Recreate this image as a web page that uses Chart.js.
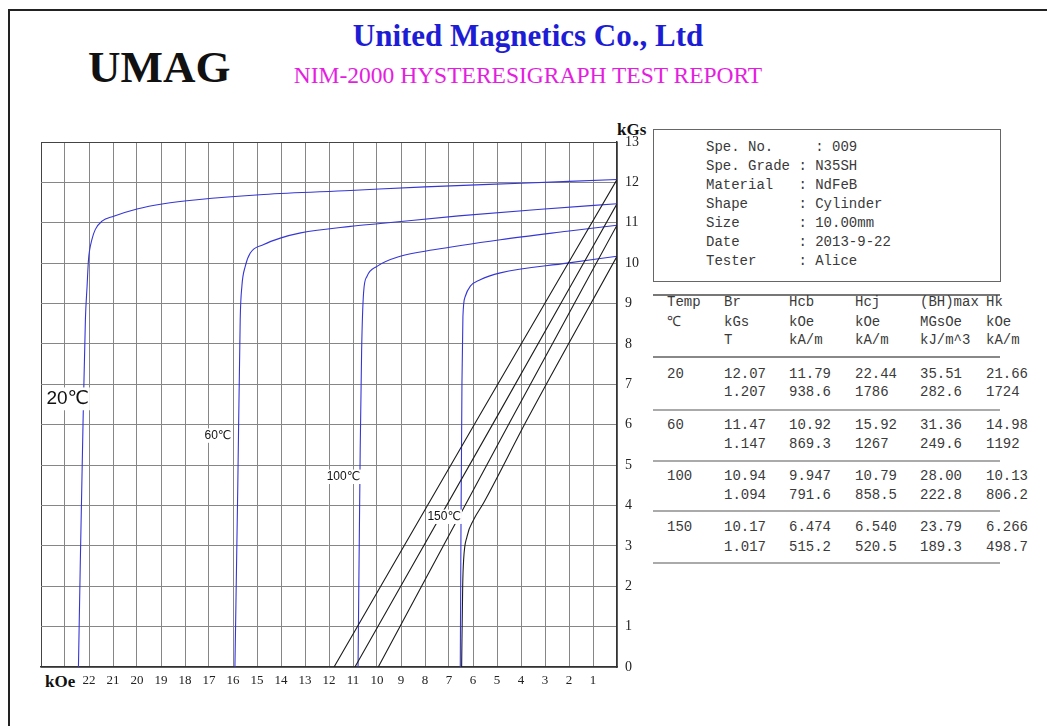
<!DOCTYPE html>
<html>
<head>
<meta charset="utf-8">
<script src="https://cdn.jsdelivr.net/npm/chart.js@4.4.1/dist/chart.umd.min.js"></script>
<style>
  body { margin: 0; width: 1047px; height: 726px; overflow: hidden; background: #fff; position: relative; }
  .abs { position: absolute; white-space: pre; line-height: 1; }
  .serif { font-family: "Liberation Serif", "Times New Roman", serif; }
  .mono { font-family: "Liberation Mono", "Courier New", monospace; font-size: 14px; color: #3a3a3a; }
  #frame { position: absolute; left: 8px; top: 9px; width: 1100px; height: 800px; border-left: 2px solid #222; border-top: 2px solid #222; }
  #info { position: absolute; left: 653px; top: 129px; width: 346px; height: 151px; border: 1px solid #666; }
  .rule { position: absolute; left: 653px; width: 347px; height: 2px; background: #aaa; }
  #chartWrap { position: absolute; left: 0; top: 100px; }
</style>
</head>
<body>
<div id="frame"></div>

<div class="abs serif" style="left:88px; top:45px; font-size:45px; font-weight:bold; color:#111;">UMAG</div>
<div class="abs serif" style="left:28px; width:1000px; text-align:center; top:20px; font-size:31px; font-weight:bold; color:#1d1dd6;">United Magnetics Co., Ltd</div>
<div class="abs serif" style="left:28px; width:1000px; text-align:center; top:64px; font-size:23.5px; color:#e41ee0;">NIM-2000 HYSTERESIGRAPH TEST REPORT</div>

<div class="abs serif" style="left:617px; top:121px; font-size:17px; font-weight:bold; color:#111;">kGs</div>
<div class="abs serif" style="left:45px; top:673px; font-size:17px; font-weight:bold; color:#111;">kOe</div>

<div id="info"></div>
<div class="abs mono" style="left:706px; top:138px; line-height:19px;">Spe. No.     : 009
Spe. Grade : N35SH
Material   : NdFeB
Shape      : Cylinder
Size       : 10.00mm
Date       : 2013-9-22
Tester     : Alice</div>

<div class="rule" style="top:294px; background:#777;"></div>
<div class="rule" style="top:356px; background:#888;"></div>
<div class="rule" style="top:409px;"></div>
<div class="rule" style="top:460px;"></div>
<div class="rule" style="top:510px;"></div>
<div class="rule" style="top:562px;"></div>

<div id="table"></div>

<div id="chartWrap"><canvas id="bhChart" width="700" height="626"></canvas></div>

<script>
// demagnetization curves (H in kOe, B in kGs)
const h20 = [0, 4, 8, 11.11, 14.72, 17.5, 18.89, 20.0, 20.97, 21.46, 21.74, 21.88, 22.02, 22.08, 22.15, 22.25, 22.36, 22.44];
const j20 = [12.07, 11.98, 11.89, 11.8, 11.7, 11.57, 11.47, 11.34, 11.16, 11.04, 10.83, 10.58, 10.09, 9.43, 8.6, 6.0, 2.66, 0];
const h60 = [0, 3.3, 6.6, 9.86, 11.11, 13.18, 14.03, 14.72, 15.28, 15.49, 15.63, 15.7, 15.8, 15.92];
const j60 = [11.47, 11.33, 11.17, 10.98, 10.91, 10.75, 10.62, 10.46, 10.25, 9.92, 9.43, 8.6, 4.5, 0];
const h100 = [0, 2.08, 4.86, 7.64, 9.03, 10.0, 10.42, 10.56, 10.64, 10.7, 10.79];
const j100 = [10.94, 10.79, 10.58, 10.33, 10.17, 9.92, 9.67, 9.26, 7.86, 5.38, 0];
const h150 = [0, 2.08, 4.86, 5.7, 6.11, 6.32, 6.42, 6.46, 6.5, 6.53];
const j150 = [10.17, 10.0, 9.76, 9.59, 9.43, 9.18, 8.68, 7.03, 3.5, 0];

// normal B curves
const nh20 = [0, 5.83, 11.79];
const nb20 = [12.07, 6.12, 0];
const nh60 = [0, 5.0, 10.92];
const nb60 = [11.47, 6.2, 0];
const nh100 = [0, 4.45, 9.947];
const nb100 = [10.94, 6.08, 0];
const nh150 = [0, 3.75, 5.56, 5.97, 6.25, 6.39, 6.43, 6.474];
const nb150 = [10.17, 6.12, 4.06, 3.65, 3.23, 2.66, 2.0, 0];

const xTickLabels = [22, 21, 20, 19, 18, 17, 16, 15, 14, 13, 12, 11, 10, 9, 8, 7, 6, 5, 4, 3, 2, 1];

const tempLabels = ['20℃', '60℃', '100℃', '150℃'];
const labelH = [22.89, 16.63, 11.4, 7.2];
const labelB = [6.64, 5.73, 4.71, 3.72];

// table
const tableHead = [
  ['Temp', 'Br', 'Hcb', 'Hcj', '(BH)max', 'Hk'],
  ['℃', 'kGs', 'kOe', 'kOe', 'MGsOe', 'kOe'],
  ['', 'T', 'kA/m', 'kA/m', 'kJ/m^3', 'kA/m']
];
const tableRows = [
  ['20', '12.07', '11.79', '22.44', '35.51', '21.66'],
  ['', '1.207', '938.6', '1786', '282.6', '1724'],
  ['60', '11.47', '10.92', '15.92', '31.36', '14.98'],
  ['', '1.147', '869.3', '1267', '249.6', '1192'],
  ['100', '10.94', '9.947', '10.79', '28.00', '10.13'],
  ['', '1.094', '791.6', '858.5', '222.8', '806.2'],
  ['150', '10.17', '6.474', '6.540', '23.79', '6.266'],
  ['', '1.017', '515.2', '520.5', '189.3', '498.7']
];

const colX = [667, 724, 789, 855, 920, 986];
const rowTop = [295, 315, 333, 366.5, 385, 417.5, 436.5, 468.5, 487.5, 520, 539.5];

const tbl = document.getElementById('table');
const allRows = tableHead.concat(tableRows);
for (let r = 0; r < allRows.length; r++) {
  for (let c = 0; c < allRows[r].length; c++) {
    if (!allRows[r][c]) continue;
    const d = document.createElement('div');
    d.className = 'abs mono';
    d.style.left = colX[c] + 'px';
    d.style.top = rowTop[r] + 'px';
    d.textContent = allRows[r][c];
    tbl.appendChild(d);
  }
}

function pts(hs, bs) {
  return hs.map((h, i) => ({ x: h, y: bs[i] }));
}

const blue = '#3636d6';
const black = '#1c1c1c';

function curve(hs, bs, color) {
  return {
    data: pts(hs, bs),
    showLine: true,
    borderColor: color,
    borderWidth: 1.1,
    pointRadius: 0,
    cubicInterpolationMode: 'monotone'
  };
}

const curveLabels = {
  id: 'curveLabels',
  afterDatasetsDraw(chart) {
    const ctx = chart.ctx;
    const x = chart.scales.x;
    const y = chart.scales.y;
    ctx.save();
    for (let i = 0; i < tempLabels.length; i++) {
      const size = i === 0 ? 19 : 12;
      ctx.font = size + 'px "Liberation Sans", "DejaVu Sans", sans-serif';
      const w = ctx.measureText(tempLabels[i]).width;
      const px = x.getPixelForValue(labelH[i]);
      const py = y.getPixelForValue(labelB[i]);
      ctx.fillStyle = '#fff';
      ctx.fillRect(px - w / 2 - 1, py - size * 0.6, w + 2, size * 1.2);
      ctx.fillStyle = '#111';
      ctx.textAlign = 'center';
      ctx.textBaseline = 'middle';
      ctx.fillText(tempLabels[i], px, py);
    }
    ctx.restore();
  }
};

Chart.defaults.font.family = '"Liberation Serif", "Times New Roman", serif';

const gridColor = (edge) => (ctx) => (ctx.tick && ctx.tick.value === edge ? '#444' : '#868686');

new Chart(document.getElementById('bhChart').getContext('2d'), {
  type: 'scatter',
  data: {
    datasets: [
      curve(nh20, nb20, black),
      curve(nh60, nb60, black),
      curve(nh100, nb100, black),
      curve(nh150, nb150, black),
      curve(h20, j20, blue),
      curve(h60, j60, blue),
      curve(h100, j100, blue),
      curve(h150, j150, blue)
    ]
  },
  options: {
    responsive: false,
    animation: false,
    layout: {
      padding: { left: 41, top: 42, right: 0, bottom: 0 }
    },
    plugins: {
      legend: { display: false },
      tooltip: { enabled: false }
    },
    scales: {
      x: {
        type: 'linear',
        reverse: true,
        min: 0,
        max: 24,
        afterFit: (s) => { s.height = 59; },
        ticks: {
          stepSize: 1,
          autoSkip: false,
          maxRotation: 0,
          padding: 6,
          color: '#222',
          font: { size: 13 },
          callback: (v) => (xTickLabels.includes(v) ? String(v) : '')
        },
        grid: { color: gridColor(24), drawTicks: false, lineWidth: 1 },
        border: { color: '#333', width: 1.5 }
      },
      y: {
        position: 'right',
        min: 0,
        max: 13,
        afterFit: (s) => { s.width = 83; },
        ticks: {
          stepSize: 1,
          padding: 8,
          color: '#222',
          font: { size: 14 }
        },
        grid: { color: gridColor(13), drawTicks: false, lineWidth: 1 },
        border: { color: '#333', width: 1.5 }
      }
    }
  },
  plugins: [curveLabels]
});
</script>
</body>
</html>
